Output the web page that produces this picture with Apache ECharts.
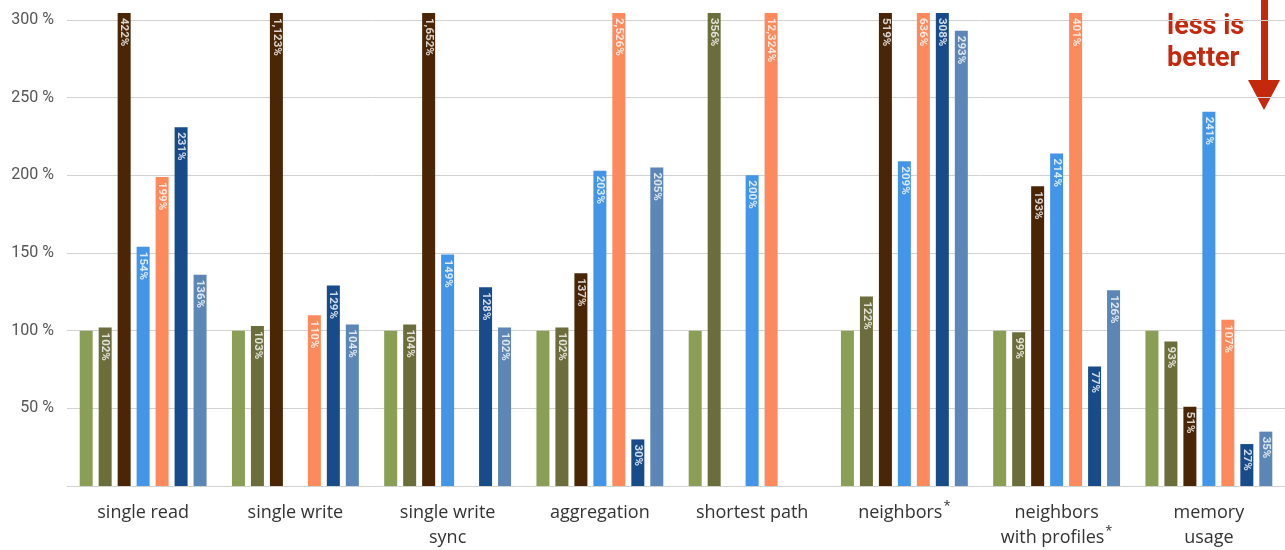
<!DOCTYPE html>
<html><head><meta charset="utf-8">
<script src="https://cdn.jsdelivr.net/npm/echarts@6/dist/echarts.min.js"></script>
<style>html,body{margin:0;padding:0;background:#fff}#c{width:1285px;height:550px}</style>
</head><body><div id="c"></div>
<script>
const categories = ['single read','single write','single write\nsync','aggregation','shortest path','neighbors*','neighbors\nwith profiles*','memory\nusage'];
const yTicks = [50,100,150,200,250,300];
const seriesNames = ['s1','s2','s3','s4','s5','s6','s7'];
const s1 = [100,100,100,100,100,100,100,100];
const s2 = [102,103,104,102,356,122,99,93];
const s3 = [422,1123,1652,137,null,519,193,51];
const s4 = [154,null,149,203,200,209,214,241];
const s5 = [199,110,null,2526,12324,636,401,107];
const s6 = [231,129,128,30,null,308,77,27];
const s7 = [136,104,102,205,null,293,126,35];
const colors = ['#8a9f55','#6b6d3a','#4a2606','#4395e8','#fd8a5c','#174b8a','#5c86b6'];

const allSeries = [s1,s2,s3,s4,s5,s6,s7];
const CAP = 304.5; // truncated display for values above the axis
const chart = echarts.init(document.getElementById('c'), null, {renderer:'canvas'});

function fmtCat(v){
  return v.split('\n').map(line=>{
    if(line.endsWith('*')) return '{n|'+line.slice(0,-1)+'}{sup|*}';
    return '{n|'+line+'}';
  }).join('\n');
}

const series = allSeries.map((arr,i)=>({
  name: seriesNames[i],
  type:'bar',
  barWidth:13,
  barGap:'46%',
  clip:false,
  itemStyle:{color:colors[i]},
  data: arr.map(v=> v==null ? null : {value: Math.min(v,CAP), raw: v}),
  label:{
    show: i>0,
    position:'insideTop',
    distance:5,
    rotate:-90,
    align:'left',
    verticalAlign:'middle',
    color:'rgba(255,255,255,0.8)',
    fontFamily:'Roboto',
    fontWeight:'bold',
    fontSize:11.5,
    formatter: p => p.data && p.data.raw!=null ? p.data.raw.toLocaleString('en-US')+'%' : ''
  }
}));

chart.setOption({
  animation:false,
  backgroundColor:'#fff',
  grid:{left:67,right:0,top:20,bottom:64},
  xAxis:{
    type:'category',
    data:categories,
    axisLine:{show:false},
    axisTick:{show:false},
    axisLabel:{
      margin:14,
      formatter: fmtCat,
      rich:{
        n:{fontFamily:'Open Sans',fontSize:18,color:'#333',lineHeight:25},
        sup:{fontFamily:'Open Sans',fontSize:13,color:'#333',verticalAlign:'top',lineHeight:25,padding:[0,0,10,1]}
      }
    }
  },
  yAxis:{
    type:'value',
    min:0,max:300,interval:50,
    axisLine:{show:false},
    axisTick:{show:false},
    splitLine:{lineStyle:{color:'#d2d2d2',width:1}},
    axisLabel:{
      margin:13,
      fontFamily:'Roboto',fontSize:16,color:'#555',
      formatter: v => yTicks.includes(v) ? v+' %' : ''
    }
  },
  series: series,
  graphic:[
    {type:'text',left:1167,top:11,style:{text:'less is\nbetter',font:'bold 27px Roboto',fill:'#c4290e',lineHeight:32,align:'center',x:38}},
    {type:'polygon',shape:{points:[[1261,0],[1268,0],[1268,80],[1280,80],[1264,110],[1248,80],[1261,80]]},style:{fill:'#c4290e'}}
  ]
});
</script>
</body></html>
